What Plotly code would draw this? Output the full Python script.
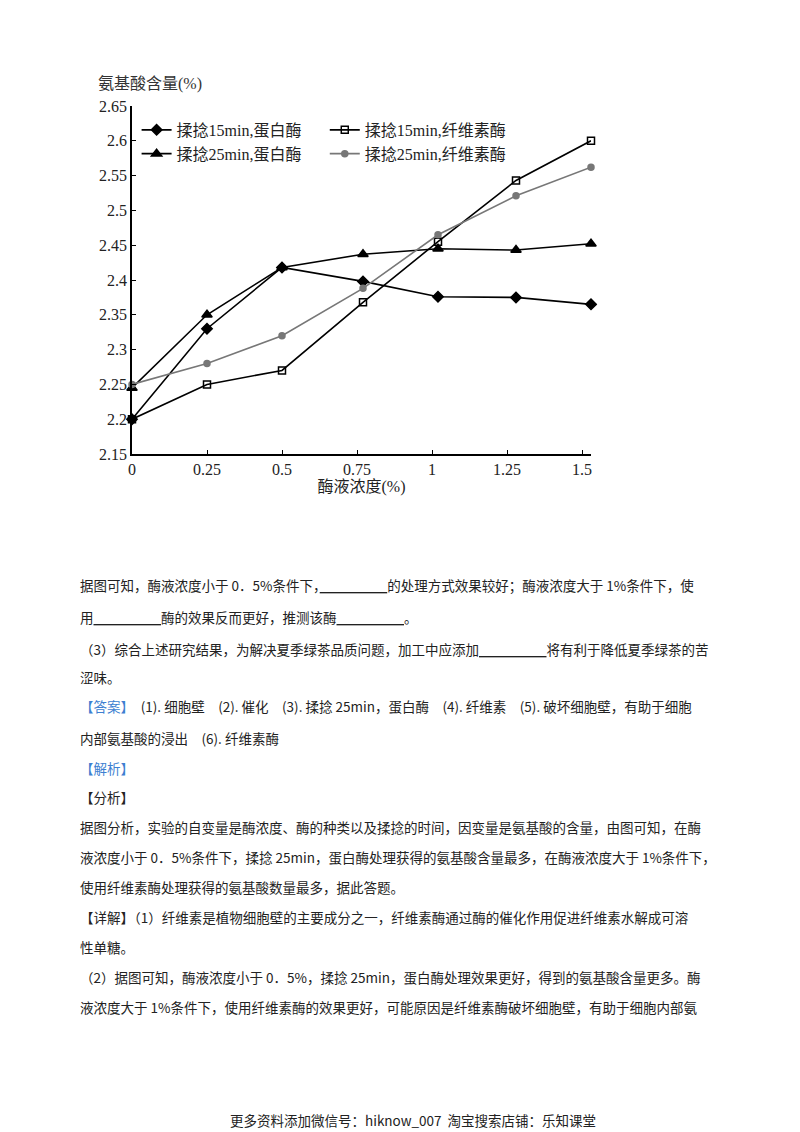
import plotly.graph_objects as go

x_vals = [0, 0.25, 0.5, 0.77, 1.02, 1.28, 1.53]
s_15_protease = [2.20, 2.33, 2.418, 2.398, 2.376, 2.375, 2.365]
s_15_cellulase = [2.20, 2.25, 2.27, 2.368, 2.455, 2.543, 2.60]
s_25_protease = [2.245, 2.35, 2.418, 2.437, 2.445, 2.443, 2.452]
s_25_cellulase = [2.25, 2.28, 2.32, 2.388, 2.465, 2.521, 2.562]
names = ["揉捻15min,蛋白酶", "揉捻15min,纤维素酶", "揉捻25min,蛋白酶", "揉捻25min,纤维素酶"]
y_ticks = [2.15, 2.2, 2.25, 2.3, 2.35, 2.4, 2.45, 2.5, 2.55, 2.6, 2.65]
x_ticks = [0, 0.25, 0.5, 0.75, 1, 1.25, 1.5]

SERIF = "Liberation Serif, Noto Sans CJK SC"
SANS = "Noto Sans CJK SC"
T, B, L, R = 98, 686, 124, 217
PH = 1132 - T - B
PW = 800 - L - R
fig = go.Figure()
styles = [
    (s_15_protease, "diamond", "black", 8, "legend"),
    (s_15_cellulase, "square-open", "black", 7, "legend2"),
    (s_25_protease, "triangle-up", "black", 9, "legend"),
    (s_25_cellulase, "circle", "#777777", 6, "legend2"),
]
for name, (ys, sym, col, sz, lg) in zip(names, styles):
    fig.add_trace(go.Scatter(
        x=x_vals, y=ys, name=name, mode="lines+markers", cliponaxis=False, legend=lg,
        line=dict(color=col, width=1.6),
        marker=dict(symbol=sym, color=col, size=sz, line=dict(color=col, width=1.5))))

leg_common = dict(yanchor="top", xanchor="left", bgcolor="rgba(0,0,0,0)",
                  font=dict(size=16, family=SERIF), tracegroupgap=0, itemwidth=30)
fig.update_layout(
    width=800, height=1132, plot_bgcolor="white", paper_bgcolor="white",
    margin=dict(l=L, r=R, t=T, b=B),
    font=dict(family=SERIF, size=15, color="#222"),
    showlegend=True,
    legend=dict(x=0.01, y=0.98, **leg_common),
    legend2=dict(x=0.42, y=0.98, **leg_common),
    xaxis=dict(range=[0, 1.53], tickvals=x_ticks, ticktext=[str(t) for t in x_ticks],
               showgrid=False, zeroline=False, showline=True, linecolor="black", linewidth=1.5,
               ticks="inside", ticklen=4, tickcolor="black", tickfont=dict(size=16),
               title=dict(text="酶液浓度(%)", standoff=4, font=dict(size=16))),
    yaxis=dict(range=[2.15, 2.65], tickvals=y_ticks, ticktext=[f"{t:g}" for t in y_ticks],
               showgrid=False, zeroline=False, showline=True, linecolor="black", linewidth=1.5,
               ticks="inside", ticklen=4, tickcolor="black", tickfont=dict(size=16)),
)

def py(y):
    return (1132 - B - y) / PH

def px(x):
    return (x - L) / PW

fig.add_annotation(text="氨基酸含量(%)", xref="paper", yref="paper", x=px(88), y=py(76),
                   xanchor="left", yanchor="middle", showarrow=False,
                   font=dict(size=16, family=SERIF, color="#333"))

BLUE = "#3d7fd1"
lines = [
    (577, "据图可知，酶液浓度小于 0．5%条件下，<u>　　　　　</u>的处理方式效果较好；酶液浓度大于 1%条件下，使"),
    (609, "用<u>　　　　　</u>酶的效果反而更好，推测该酶<u>　　　　　</u>。"),
    (641, "（3）综合上述研究结果，为解决夏季绿茶品质问题，加工中应添加<u>　　　　　</u>将有利于降低夏季绿茶的苦"),
    (669, "涩味。"),
    (698, f"<span style='color:{BLUE}'>【答案】</span>　(1). 细胞壁　(2). 催化　(3). 揉捻 25min，蛋白酶　(4). 纤维素　(5). 破坏细胞壁，有助于细胞"),
    (730, "内部氨基酸的浸出　(6). 纤维素酶"),
    (760, f"<span style='color:{BLUE}'>【解析】</span>"),
    (789, "【分析】"),
    (819, "据图分析，实验的自变量是酶浓度、酶的种类以及揉捻的时间，因变量是氨基酸的含量，由图可知，在酶"),
    (849, "液浓度小于 0．5%条件下，揉捻 25min，蛋白酶处理获得的氨基酸含量最多，在酶液浓度大于 1%条件下，"),
    (879, "使用纤维素酶处理获得的氨基酸数量最多，据此答题。"),
    (909, "【详解】（1）纤维素是植物细胞壁的主要成分之一，纤维素酶通过酶的催化作用促进纤维素水解成可溶"),
    (939, "性单糖。"),
    (969, "（2）据图可知，酶液浓度小于 0．5%，揉捻 25min，蛋白酶处理效果更好，得到的氨基酸含量更多。酶"),
    (999, "液浓度大于 1%条件下，使用纤维素酶的效果更好，可能原因是纤维素酶破坏细胞壁，有助于细胞内部氨"),
]
for y, t in lines:
    fig.add_annotation(text=t, xref="paper", yref="paper", x=px(70), y=py(y),
                       xanchor="left", yanchor="middle",
                       showarrow=False, font=dict(size=13.5, family=SANS, color="#222"))
fig.add_annotation(text="更多资料添加微信号：hiknow_007  淘宝搜索店铺：乐知课堂", xref="paper", yref="paper",
                   x=px(405), y=py(1112), xanchor="center", yanchor="middle",
                   showarrow=False, font=dict(size=13.5, family=SANS, color="#222"))

fig.write_html("out.html")
